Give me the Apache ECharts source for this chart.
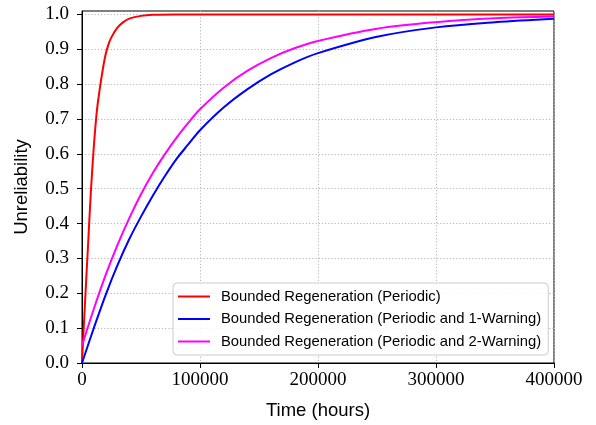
<!DOCTYPE html>
<html>
<head>
<meta charset="utf-8">
<script src="https://cdn.jsdelivr.net/npm/echarts@6/dist/echarts.min.js"></script>
<style>
html,body{margin:0;padding:0;background:#fff;}
#chart{width:596px;height:425px;}
</style>
</head>
<body>
<div id="chart"></div>
<script>
// Series names
var seriesNames = [
  'Bounded Regeneration (Periodic)',
  'Bounded Regeneration (Periodic and 1-Warning)',
  'Bounded Regeneration (Periodic and 2-Warning)'
];
// Red: Periodic
var redTime = [0, 2500, 5000, 7500, 10000, 12500, 15000, 17500, 20000, 22500, 25000, 30000, 35000, 40000, 50000, 60000, 80000, 400000];
var redValue = [0, 0.17, 0.33, 0.49, 0.62, 0.72, 0.785, 0.84, 0.885, 0.915, 0.935, 0.962, 0.978, 0.988, 0.996, 0.999, 1.0, 1.0];
// Blue: Periodic and 1-Warning
var blueTime = [0, 10000, 20000, 30000, 40000, 50000, 60000, 70000, 80000, 90000, 100000, 120000, 140000, 160000, 180000, 200000, 250000, 300000, 350000, 400000];
var blueValue = [0, 0.1, 0.195, 0.28, 0.355, 0.42, 0.48, 0.535, 0.585, 0.627, 0.668, 0.733, 0.785, 0.828, 0.862, 0.889, 0.936, 0.963, 0.978, 0.988];
// Magenta: Periodic and 2-Warning
var magentaTime = [0, 10000, 20000, 30000, 40000, 50000, 60000, 70000, 80000, 90000, 100000, 120000, 140000, 160000, 180000, 200000, 250000, 300000, 350000, 400000];
var magentaValue = [0.05, 0.155, 0.252, 0.338, 0.415, 0.484, 0.545, 0.598, 0.646, 0.689, 0.728, 0.79, 0.838, 0.875, 0.903, 0.924, 0.959, 0.978, 0.989, 0.994];
// Tick labels
var xTicks = [0, 100000, 200000, 300000, 400000];
var yTicks = [0, 0.1, 0.2, 0.3, 0.4, 0.5, 0.6, 0.7, 0.8, 0.9, 1.0];

function pairs(t, v) { return t.map(function (x, i) { return [x, v[i]]; }); }

var colors = ['#ff0000', '#0000ff', '#ff00ff'];
var tickFont = 'Liberation Serif';
var sansFont = 'Liberation Sans';

var chart = echarts.init(document.getElementById('chart'), null, {renderer: 'canvas'});
var option = {
  animation: false,
  backgroundColor: '#ffffff',
  grid: {
    left: 82, right: 42, top: 11, bottom: 62,
    show: true, borderColor: '#000', borderWidth: 1, backgroundColor: 'transparent'
  },
  xAxis: {
    type: 'value', min: 0, max: 400000, interval: 100000,
    name: 'Time (hours)', nameLocation: 'middle', nameGap: 38,
    nameTextStyle: {fontFamily: sansFont, fontSize: 18.5, color: '#000'},
    axisLine: {show: true, onZero: false, lineStyle: {color: '#000', width: 1}},
    axisTick: {show: true, inside: false, length: 5, lineStyle: {color: '#000', width: 1}},
    axisLabel: {
      margin: 8, fontFamily: tickFont, fontSize: 19, color: '#000',
      customValues: xTicks,
      formatter: function (v) { return String(v); }
    },
    splitLine: {show: true, lineStyle: {color: '#b8b8b8', width: 1, type: [1.2, 2]}}
  },
  yAxis: {
    type: 'value', min: 0, max: 1.01, interval: 0.1,
    name: 'Unreliability', nameLocation: 'middle', nameGap: 51, nameRotate: 90,
    nameTextStyle: {fontFamily: sansFont, fontSize: 18.5, color: '#000'},
    axisLine: {show: true, onZero: false, lineStyle: {color: '#000', width: 1}},
    axisTick: {show: true, inside: false, length: 5, customValues: yTicks, lineStyle: {color: '#000', width: 1}},
    axisLabel: {
      margin: 13, fontFamily: tickFont, fontSize: 19, color: '#000',
      customValues: yTicks,
      formatter: function (v) { return v > 1.0001 ? '' : v.toFixed(1); }
    },
    splitLine: {show: true, lineStyle: {color: '#b8b8b8', width: 1, type: [1.2, 2]}}
  },
  legend: {
    orient: 'vertical', left: 173, top: 283,
    padding: [6, 7, 6, 5], itemGap: 7.5,
    itemWidth: 32, itemHeight: 2, icon: 'rect',
    backgroundColor: 'rgba(255,255,255,0.85)',
    borderColor: '#cccccc', borderWidth: 1, borderRadius: 4,
    textStyle: {fontFamily: sansFont, fontSize: 14.8, color: '#000', padding: [0, 0, 0, 6]},
    data: seriesNames
  },
  series: [
    {name: seriesNames[0], type: 'line', data: pairs(redTime, redValue), showSymbol: false, symbol: 'none', smooth: 0.35, lineStyle: {color: colors[0], width: 2}, itemStyle: {color: colors[0]}},
    {name: seriesNames[1], type: 'line', data: pairs(blueTime, blueValue), showSymbol: false, symbol: 'none', smooth: 0.35, lineStyle: {color: colors[1], width: 2}, itemStyle: {color: colors[1]}},
    {name: seriesNames[2], type: 'line', data: pairs(magentaTime, magentaValue), showSymbol: false, symbol: 'none', smooth: 0.35, lineStyle: {color: colors[2], width: 2}, itemStyle: {color: colors[2]}}
  ]
};
chart.setOption(option);
</script>
</body>
</html>
